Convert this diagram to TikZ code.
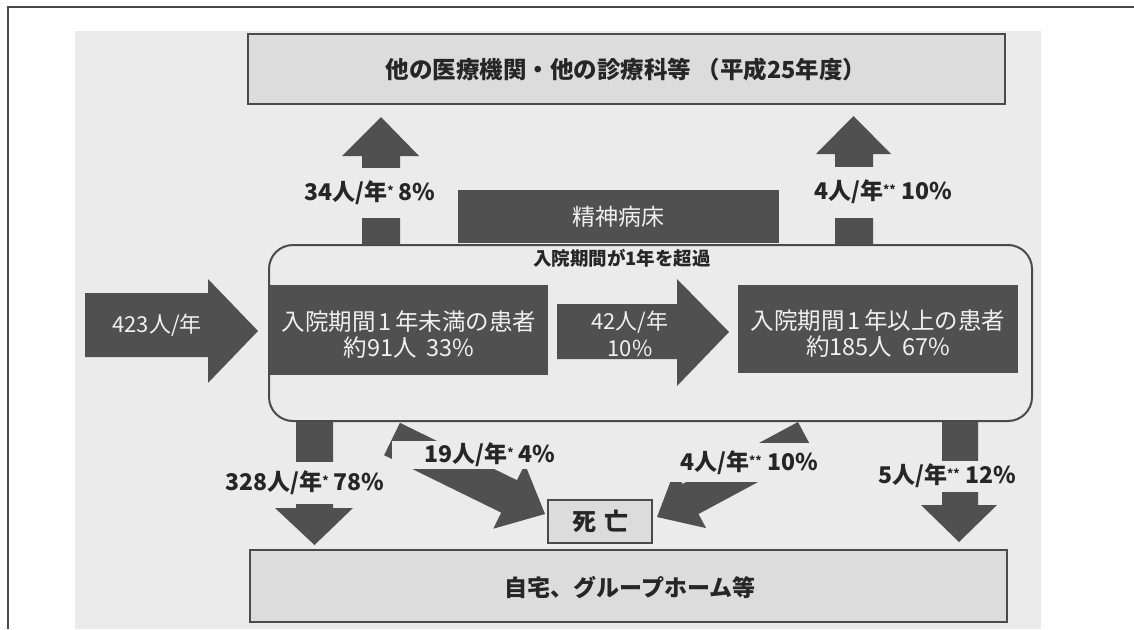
\documentclass[tikz,border=0pt]{standalone}
\usepackage{fontspec}
\setmainfont{Noto Sans CJK JP}
\definecolor{bgc}{HTML}{EBEBEB}
\definecolor{boxc}{HTML}{DCDCDC}
\definecolor{dkc}{HTML}{505050}
\definecolor{bdc}{HTML}{4A4A4A}
\definecolor{txc}{HTML}{262626}
\definecolor{wtc}{HTML}{F0F0F0}
\newcommand{\sast}{{\fontsize{12}{12}\selectfont\raisebox{5pt}{*}}}
\newcommand{\gp}{\hspace{3pt}}
\begin{document}
\begin{tikzpicture}[x=1pt,y=-1pt,
  lightbox/.style={draw=bdc, line width=2.2pt, fill=boxc, inner sep=0pt},
  darkbox/.style={fill=dkc, inner sep=0pt},
  blk/.style={fill=dkc},
  cutlabel/.style={fill=bgc, inner sep=0pt, text=txc, font=\fontsize{23}{23}\selectfont\bfseries},
  wtext/.style={text=wtc, align=center, inner sep=0pt},
  btext/.style={text=txc, inner sep=0pt},
]
\useasboundingbox (0,0) rectangle (1134,629);
\fill[white] (0,0) rectangle (1134,629);
\fill[bgc] (75,31) rectangle (1041,629);
\draw[bdc, line width=1.5pt] (8,629) -- (8,7) -- (1134,7);

% top and bottom boxes
\node[lightbox, minimum width=757, minimum height=70] (top) at (626.5,69) {};
\node[btext, font=\fontsize{23.5}{24}\selectfont\bfseries] (toptxt) at (626,70) {他の医療機関・他の診療科等 （平成25年度）};
\node[lightbox, minimum width=757, minimum height=72] (home) at (628.5,586) {};
\node[btext, font=\fontsize{23}{24}\selectfont\bfseries] (hometxt) at (630,588) {自宅、グループホーム等};

% block arrows out of the ward
\fill[blk] (362,245) -- (362,156) -- (342,156) -- (381,117) -- (419,156) -- (400,156) -- (400,245) -- cycle;
\fill[blk] (835,245) -- (835,154) -- (816,154) -- (853.5,116) -- (891,154) -- (873,154) -- (873,245) -- cycle;
\fill[blk] (296,420) -- (296,508) -- (275,508) -- (314.5,545) -- (353,508) -- (333,508) -- (333,420) -- cycle;
\fill[blk] (942,420) -- (942,505) -- (921,505) -- (959,542) -- (997,505) -- (978,505) -- (978,420) -- cycle;
\fill[blk] (399.9,422.8) -- (517.0,480.2) -- (524.9,464.1) -- (545,514) -- (493.3,528.7) -- (501.2,512.6) -- (384.1,455.2) -- cycle;
\fill[blk] (798,422) -- (682.5,484.0) -- (674.9,469.9) -- (657,517) -- (706.1,528.1) -- (698.5,514.0) -- (814,452) -- cycle;

% labels that cut the arrows
\node[cutlabel, minimum width=150, minimum height=50] (l1) at (370,193) {34人/年\sast\ 8\%};
\node[cutlabel, minimum width=165, minimum height=51] (l2) at (883,192) {4人/年\sast\sast\ 10\%};
\node[cutlabel, minimum width=196, minimum height=28] (l3) at (490,455) {19人/年\sast\ 4\%};
\node[cutlabel, minimum width=168, minimum height=39] (l4) at (749,462.5) {4人/年\sast\sast\ 10\%};
\node[cutlabel, minimum width=172, minimum height=42] (l5) at (305,483) {328人/年\sast\ 78\%};
\node[cutlabel, minimum width=160, minimum height=31] (l6) at (947,476) {5人/年\sast\sast\ 12\%};

% ward (rounded box)
\node[draw=bdc, line width=2pt, fill=bgc, rounded corners=24pt, minimum width=763, minimum height=176, inner sep=0pt] (ward) at (650.5,333) {};
\node[btext, font=\fontsize{18.5}{19}\selectfont\bfseries] (over) at (622,258) {入院期間が1年を超過};

% psychiatric beds
\node[darkbox, minimum width=321, minimum height=53] (beds) at (618.5,216.5) {};
\node[wtext, font=\fontsize{23}{24}\selectfont] (bedstxt) at (618,217) {精神病床};

% patient boxes
\node[darkbox, minimum width=278, minimum height=90] (short) at (409,330) {};
\node[wtext, font=\fontsize{23.5}{26}\selectfont] (shorttxt) at (409,335) {入院期間\gp 1\gp 年未満の患者\\約91人\hspace{10pt}33\%};
\node[darkbox, minimum width=280, minimum height=88] (long) at (878,329) {};
\node[wtext, font=\fontsize{23.5}{26}\selectfont] (longtxt) at (878,334) {入院期間\gp 1\gp 年以上の患者\\約185人\hspace{10pt}67\%};

% inflow arrow and transfer arrow
\fill[blk] (85,293) -- (208,293) -- (208,279) -- (258,331) -- (208,383) -- (208,357) -- (85,357) -- cycle;
\node[wtext, font=\fontsize{22}{24}\selectfont] (intxt) at (157,325) {423人/年};
\fill[blk] (557,304) -- (677,304) -- (677,279) -- (729,332) -- (677,386) -- (677,359) -- (557,359) -- cycle;
\node[wtext, font=\fontsize{22}{27}\selectfont] (trtxt) at (630,334) {42人/年\\10\%};

% death
\node[lightbox, minimum width=104, minimum height=43, font=\fontsize{24}{24}\selectfont\bfseries, text=txc] (death) at (600,521.5) {死\hspace{8pt}亡};
\end{tikzpicture}
\end{document}
